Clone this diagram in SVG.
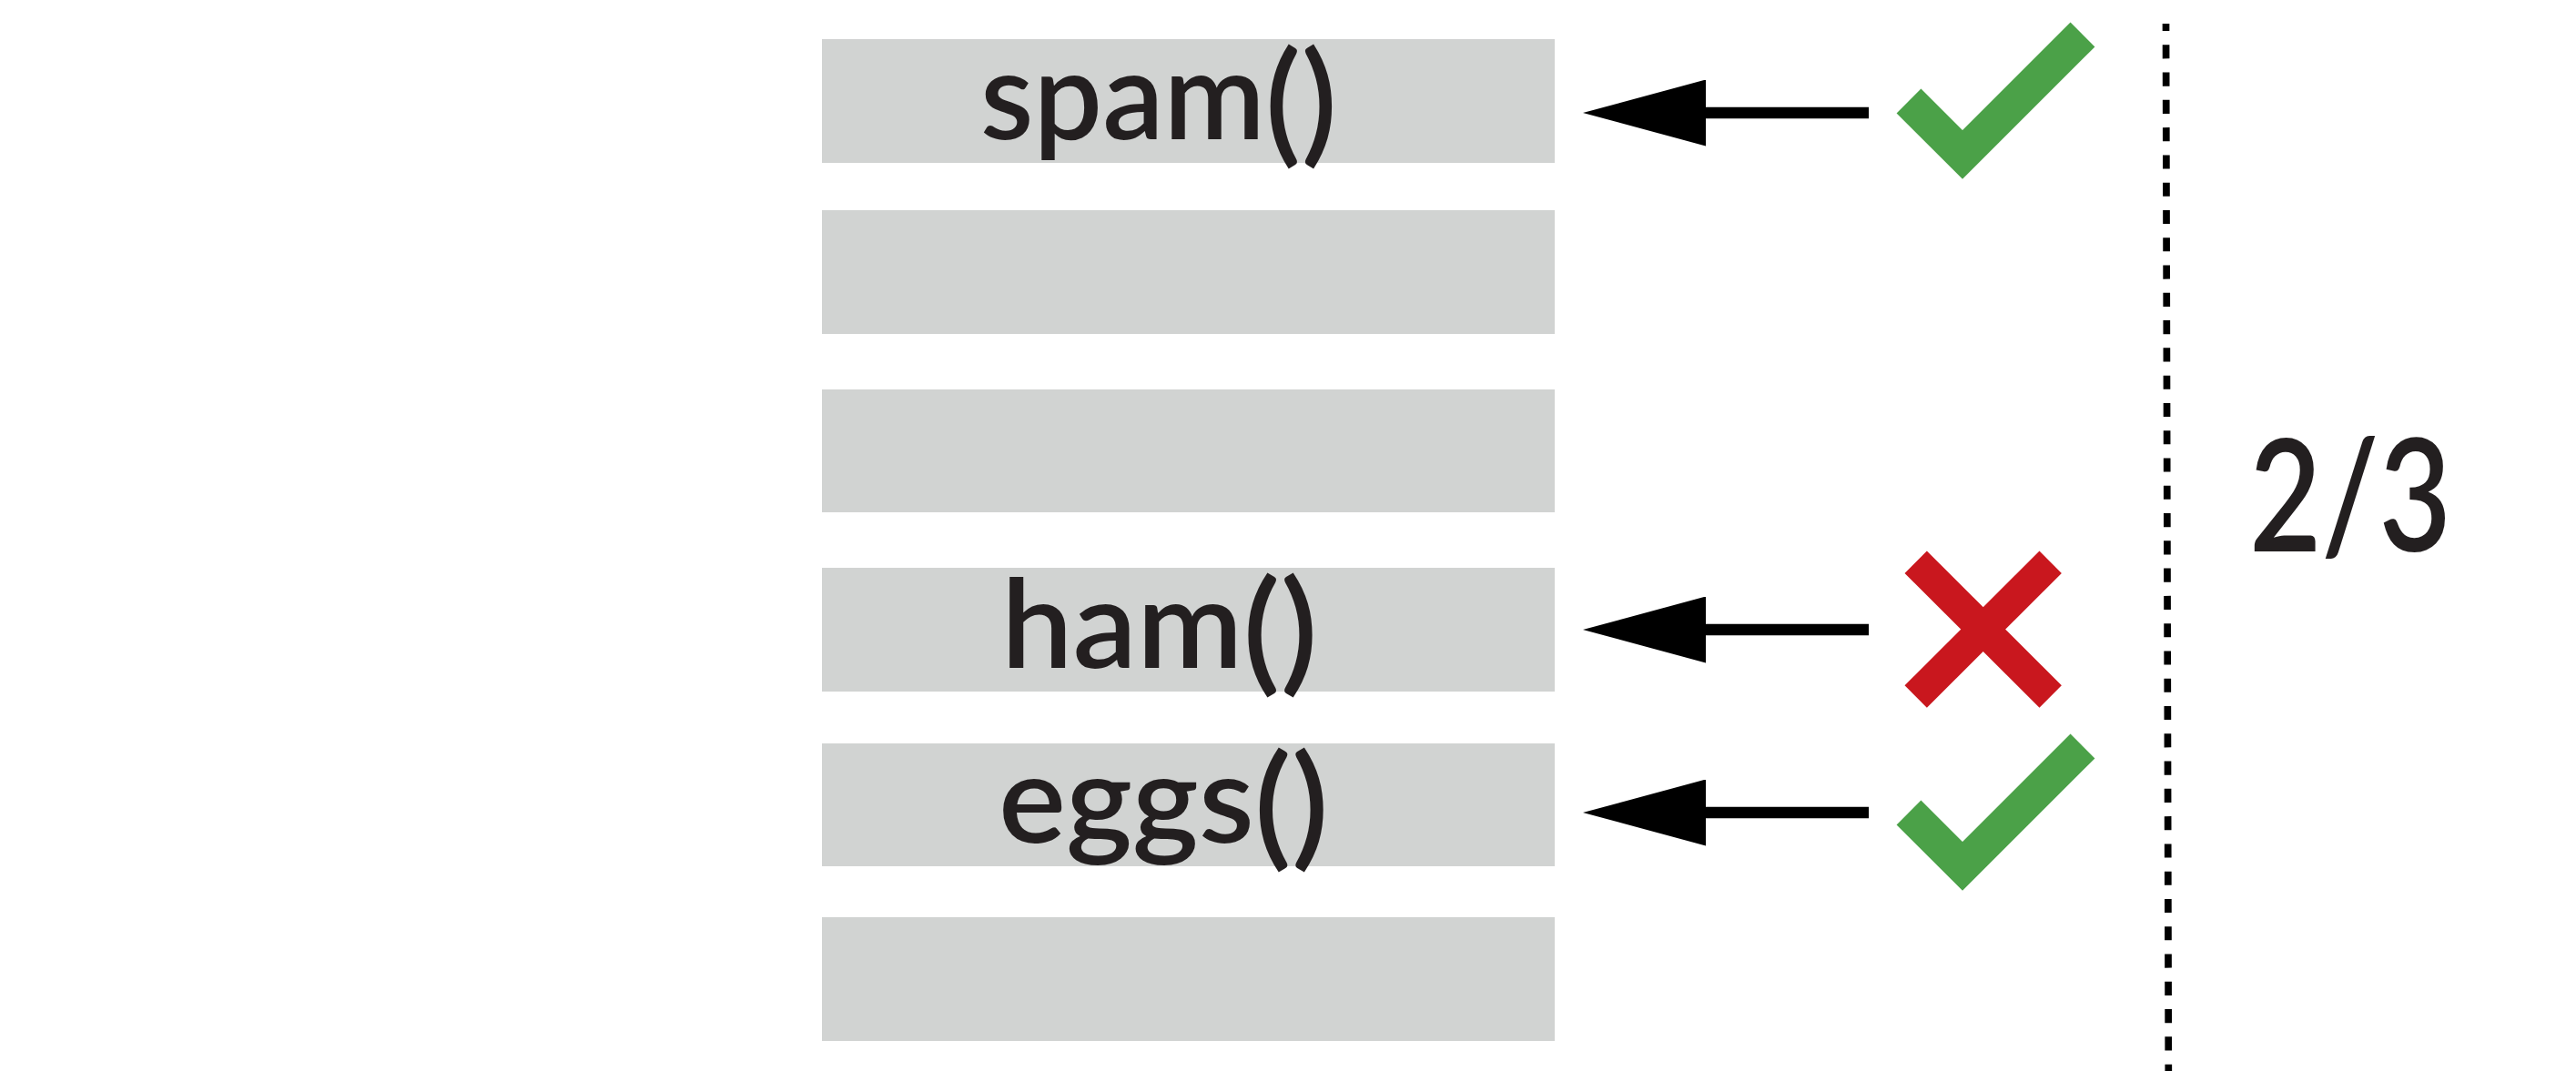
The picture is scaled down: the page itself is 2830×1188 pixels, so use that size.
<svg xmlns="http://www.w3.org/2000/svg" width="2830" height="1188" viewBox="0 0 2830 1188">
  <style>
    .slot { fill: #d1d3d2; }
    .lbl { font-family: Lato, "Open Sans", "Liberation Sans", sans-serif; font-weight: 600; font-size: 134px; fill: #231f20; }
    .par { font-size: 146px; }
    .frac { font-family: Lato, "Open Sans", "Liberation Sans", sans-serif; font-weight: 600; font-size: 172px; fill: #231f20; }
    .conn { stroke: #000; stroke-width: 12.7; fill: none; marker-end: url(#head); }
    .ok { fill: none; stroke: #4ba148; stroke-width: 38; stroke-linejoin: miter; stroke-linecap: butt; }
    .bad { fill: none; stroke: #c9171e; stroke-width: 34.5; stroke-linecap: butt; }
  </style>
  <defs>
    <marker id="head" viewBox="0 0 135 73" refX="0" refY="36.5" markerWidth="135" markerHeight="73" markerUnits="userSpaceOnUse" orient="auto">
      <path d="M0,0 L135,36.5 L0,73 Z" fill="#000"/>
    </marker>
  </defs>
  <rect width="2830" height="1188" fill="#ffffff"/>

  <g id="slot1"><rect class="slot" x="903" y="43" width="805" height="136"/><text class="lbl" x="1077" y="152.5" textLength="392" lengthAdjust="spacingAndGlyphs">spam<tspan class="par" dy="10">()</tspan></text></g>
  <g id="slot2"><rect class="slot" x="903" y="231" width="805" height="136"/></g>
  <g id="slot3"><rect class="slot" x="903" y="428" width="805" height="135"/></g>
  <g id="slot4"><rect class="slot" x="903" y="624" width="805" height="136"/><text class="lbl" x="1100" y="734" textLength="348" lengthAdjust="spacingAndGlyphs">ham<tspan class="par" dy="10">()</tspan></text></g>
  <g id="slot5"><rect class="slot" x="903" y="817" width="805" height="135"/><text class="lbl" x="1097" y="926" textLength="363" lengthAdjust="spacingAndGlyphs">eggs<tspan class="par" dy="10">()</tspan></text></g>
  <g id="slot6"><rect class="slot" x="903" y="1008" width="805" height="136"/></g>

  <g id="connectors">
    <line class="conn" x1="2053" y1="124" x2="1874" y2="124"/>
    <line class="conn" x1="2053" y1="692" x2="1874" y2="692"/>
    <line class="conn" x1="2053" y1="893" x2="1874" y2="893"/>
  </g>

  <g id="check1"><polyline class="ok" points="2097,111 2156,170 2288,38"/></g>
  <g id="cross"><line class="bad" x1="2104.7" y1="617.8" x2="2252.7" y2="765.5"/><line class="bad" x1="2252.7" y1="617.8" x2="2104.7" y2="765.5"/></g>
  <g id="check2"><polyline class="ok" points="2097,893 2156,952 2288,820"/></g>

  <g id="divider"><line x1="2379.5" y1="26" x2="2382.3" y2="1177" stroke="#000" stroke-width="7.7" stroke-dasharray="15.1 15.18" stroke-dashoffset="7"/></g>

  <g id="ratio"><text class="frac" x="2471" y="606" textLength="222" lengthAdjust="spacingAndGlyphs">2/3</text></g>
</svg>
